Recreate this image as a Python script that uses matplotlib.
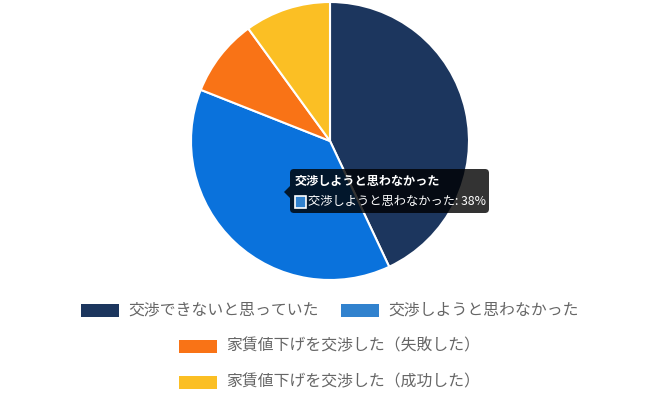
import matplotlib
matplotlib.use("Agg")
import matplotlib.pyplot as plt
from matplotlib.patches import Rectangle, FancyBboxPatch, Polygon

plt.rcParams['font.family'] = ['Noto Sans CJK JP', 'DejaVu Sans']

labels = ["交渉できないと思っていた", "交渉しようと思わなかった",
          "家賃値下げを交渉した（失敗した）", "家賃値下げを交渉した（成功した）"]
values = [43, 38, 9, 10]
colors = ["#1c365e", "#3182ce", "#f97316", "#fbbf24"]
hover_color = "#0a72dc"   # highlighted slice
hover_idx = 1

W, H = 660, 400
fig = plt.figure(figsize=(W / 100, H / 100), dpi=100)
ax = fig.add_axes([0, 0, 1, 1])

def Y(py):
    return H - py

slice_colors = list(colors)
slice_colors[hover_idx] = hover_color
ax.pie(values, colors=slice_colors, startangle=90, counterclock=False,
       center=(330, Y(141)), radius=139,
       wedgeprops=dict(edgecolor="white", linewidth=1.5))
ax.set_xlim(0, W)
ax.set_ylim(0, H)
ax.set_aspect("equal")
ax.axis("off")

# legend
legend_rows = [
    [(0, 81), (1, 341)],
    [(2, 179)],
    [(3, 179)],
]
row_y = [310, 346, 382]
for row, cy in zip(legend_rows, row_y):
    for idx, x0 in row:
        ax.add_patch(Rectangle((x0, Y(cy) - 6.5), 38, 13, facecolor=colors[idx],
                               edgecolor="none"))
        ax.text(x0 + 47, Y(cy), labels[idx], fontsize=11.4, color="#666666",
                va="center", ha="left")

# tooltip
tx0, tx1, ty0, ty1 = 290, 489, 169, 213
ax.add_patch(FancyBboxPatch((tx0 + 4, Y(ty1) + 4), tx1 - tx0 - 8, ty1 - ty0 - 8,
                            boxstyle="round,pad=4", facecolor="black",
                            edgecolor="none", alpha=0.8))
ax.add_patch(Polygon([(tx0, Y(186)), (284, Y(192)), (tx0, Y(198))],
                     closed=True, facecolor="black", edgecolor="none", alpha=0.8))
ax.text(295, Y(181), labels[hover_idx], fontsize=8.7, fontweight="bold",
        color="white", va="center", ha="left")
ax.add_patch(Rectangle((295, Y(208)), 11, 12, facecolor=colors[hover_idx],
                       edgecolor="white", linewidth=1.2))
ax.text(308, Y(202), f"{labels[hover_idx]}: {values[hover_idx]}%", fontsize=8.8,
        color="white", va="center", ha="left")

fig.savefig("out.png", dpi=100)
